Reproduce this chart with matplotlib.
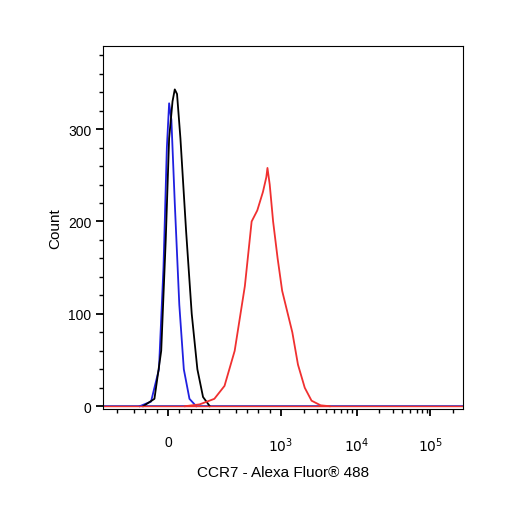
import matplotlib
matplotlib.use("Agg")
import matplotlib.pyplot as plt
import numpy as np

plt.rcParams['font.family'] = ['Liberation Sans', 'DejaVu Sans']

# x in display (biexponential) axis units: 0 -> 0, 10^3 -> 1.0, 10^4 -> 1.67, 10^5 -> 2.32
blue_x = [-0.25, -0.15, -0.08, -0.04, -0.01, 0.01, 0.03, 0.06, 0.1, 0.14, 0.19, 0.25]
blue_y = [0, 5, 40, 150, 280, 328, 310, 220, 110, 40, 8, 0]
black_x = [-0.22, -0.12, -0.06, -0.02, 0.01, 0.04, 0.06, 0.08, 0.11, 0.16, 0.21, 0.26, 0.31, 0.37]
black_y = [0, 8, 60, 180, 290, 330, 343, 338, 290, 190, 100, 40, 10, 0]
red_x = [0.15, 0.28, 0.41, 0.5, 0.59, 0.68, 0.74, 0.79, 0.84, 0.87, 0.88, 0.9, 0.93, 0.97, 1.01, 1.06, 1.1, 1.15, 1.21, 1.27, 1.35, 1.43]
red_y = [0, 2, 8, 22, 60, 130, 200, 212, 232, 248, 258, 240, 200, 160, 125, 100, 80, 45, 20, 6, 1, 0]

fig = plt.figure(figsize=(5.06, 5.06), dpi=100)
ax = fig.add_axes([103/506, 1-410/506, 360/506, 363/506])
ax.plot([-0.6, 2.7], [0, 0], color="#3030c0", lw=1.2)
ax.plot(blue_x, blue_y, color="#2020e0", lw=1.3)
ax.plot(black_x, black_y, color="black", lw=1.3)
ax.plot(red_x, red_y, color="#f03030", lw=1.3)
ax.plot([-0.6, 2.7], [0, 0], color="#f03030", lw=1.0)
ax.set_xlim(-0.575, 2.61)
ax.set_ylim(-3, 390)
ax.set_yticks([0, 100, 200, 300])
ax.set_yticks(np.arange(0, 390, 20), minor=True)
ax.set_xticks([0, 1.0, 1.67, 2.32])
ax.set_xticks([-0.45, -0.3, -0.2, -0.1, 0.1, 0.2, 0.3, 0.45, 0.6, 0.7, 0.8, 0.9,
               1.2, 1.32, 1.4, 1.47, 1.53, 1.58, 1.63, 1.87, 1.99, 2.07, 2.14, 2.2, 2.25, 2.29, 2.52], minor=True)
ax.set_xticklabels(["0", "$10^3$", "$10^4$", "$10^5$"])
ax.tick_params(labelsize=10, length=5, width=1.3)
ax.tick_params(which="minor", length=3, width=1.0)
ax.tick_params(axis="x", pad=14)
ax.set_xlabel("CCR7 - Alexa Fluor® 488", fontsize=11, labelpad=8)
ax.set_ylabel("Count", fontsize=11)
fig.savefig("out.png", dpi=100)
